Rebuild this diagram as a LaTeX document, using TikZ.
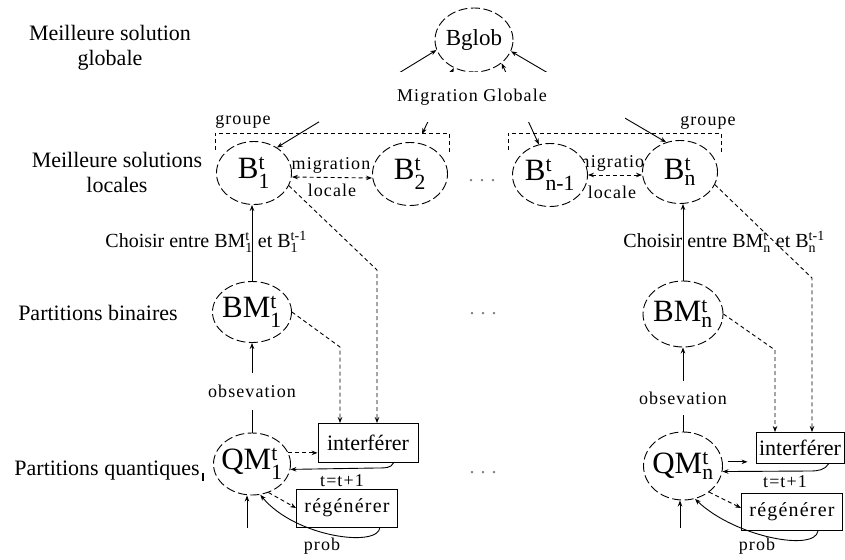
\documentclass[tikz,border=0pt]{standalone}
\usepackage{fontspec}
\usepackage{amsmath}
\setmainfont{Liberation Serif}
\usetikzlibrary{shapes.geometric,arrows.meta,calc}

% base letters with a stacked superscript and subscript, in the text font
\newcommand{\supsub}[3]{#1$^{\text{#2}}_{\text{#3}}$}
% widely spaced small serif used for edge labels
\newcommand{\spaced}[1]{\fontsize{#1}{#1}\selectfont\addfontfeatures{LetterSpace=6}}

\begin{document}
\begin{tikzpicture}[x=1pt,y=-1pt,line width=0.9pt,
  every node/.style={inner sep=0pt},
  tip/.style={-{Stealth[length=6pt,width=4.5pt]}},
  twotip/.style={{Stealth[length=6pt,width=4.5pt]}-{Stealth[length=6pt,width=4.5pt]}},
  dsh/.style={dash pattern=on 4pt off 3pt},
  sol/.style={ellipse, draw, dash pattern=on 9pt off 3.5pt, fill=white, inner sep=0pt},
  bnode/.style={sol, minimum width=75pt, minimum height=63pt},
  big/.style={font=\fontsize{31}{34}\selectfont},
  side/.style={font=\fontsize{22}{25}\selectfont, align=center},
  small/.style={font=\spaced{18}},
  opbox/.style={draw, solid, inner sep=0pt},
  choice/.style={font=\fontsize{20}{24}\selectfont, anchor=west},
  dots/.style={text=gray, font=\fontsize{20}{24}\selectfont},
]
\useasboundingbox (0,0) rectangle (845,559);

% captions of the levels
\node[side] (capG) at (110,48) {Meilleure solution\\globale};
\node[side] (capL) at (117,172) {Meilleure solutions\\locales};
\node[side] (capB) at (98,313) {Partitions binaires};
\node[side] (capQ) at (107,471) {Partitions quantiques};
\draw[line width=1.6pt] (203,473) -- (203,481);

% local migration labels, set before the filled ellipses
\node[small] (mig1) at (331,165) {migration};
\node[small] (loc1) at (332,190) {locale};
\node[small] (mig2) at (615,163) {migration};
\node[small] (loc2) at (612,192) {locale};

% global best
\node[sol, minimum width=78pt, minimum height=64pt,
      label={[font=\fontsize{23}{25}\selectfont]center:Bglob}] (Bglob) at (474,40) {};

% local bests
\node[bnode, label={[big]center:\supsub{B}{t}{1}}] (B1) at (254,173) {};
\node[bnode, label={[big]center:\supsub{B}{t}{2}}] (B2) at (410,174) {};
\node[bnode, label={[big]center:\supsub{B}{t}{n-1}}] (Bnm) at (550,175) {};
\node[bnode, label={[big]center:\supsub{B}{t}{n}}] (Bn) at (680,172) {};

% binary partitions
\node[sol, minimum width=79pt, minimum height=61pt,
      label={[big]center:\supsub{BM}{t}{1}}] (BM1) at (252,312) {};
\node[sol, minimum width=80pt, minimum height=66pt,
      label={[big]center:\supsub{BM}{t}{n}}] (BMn) at (683,314) {};

% quantum partitions
\node[sol, minimum width=77pt, minimum height=62pt,
      label={[big]center:\supsub{QM}{t}{1}}] (QM1) at (252,464) {};
\node[sol, minimum width=79pt, minimum height=68pt,
      label={[big]center:\supsub{QM}{t}{n}}] (QMn) at (683,466) {};

% operators
\node[opbox, minimum width=100pt, minimum height=39pt, font=\fontsize{22}{24}\selectfont] (I1) at (368,443) {interférer};
\node[opbox, minimum width=101pt, minimum height=38pt, font=\spaced{20}] (R1) at (347,508) {régénérer};
\node[opbox, minimum width=88pt, minimum height=31pt, font=\fontsize{22}{24}\selectfont] (In) at (800,448) {interférer};
\node[opbox, minimum width=101pt, minimum height=37pt, font=\spaced{20}] (Rn) at (792,512) {régénérer};

% ellipsis marks
\node[dots] (d1) at (482,181) {.\hspace{6pt}.\hspace{6pt}.};
\node[dots] (d2) at (483,314) {.\hspace{6pt}.\hspace{6pt}.};
\node[dots] (d3) at (483,473) {.\hspace{6pt}.\hspace{6pt}.};

% groups
\draw[dsh] (215,150) -- (215,133) -- (449,133) -- (449,152);
\draw[dsh] (508,150) -- (508,133) -- (721,133) -- (721,153);
\node[small] (grp1) at (243,122) {groupe};
\node[small] (grp2) at (708,123) {groupe};

% global migration
\coordinate (g1) at (422,134);
\draw[twotip] (B1.48) -- (Bglob.195);
\draw[twotip] (g1) -- (Bglob.234);
\draw[twotip] (Bnm.110) -- (Bglob.-40);
\draw[twotip] (Bn.115) -- (Bglob.-17);
\node[fill=white, minimum width=306pt, minimum height=49pt, small] (MG) at (472,97) {Migration Globale};

% local migration
\draw[dsh,twotip] ([yshift=-4pt]B1.east) -- ([yshift=-4pt]B2.west);
\draw[dsh,twotip] (Bnm.east) -- (Bnm.east -| Bn.west);

% choice between binary partition and previous best
\draw[tip] (BM1) -- (BM1 |- B1.south);
\draw[tip] (BMn) -- (BMn |- Bn.south);
\node[choice] (ch1) at (105,242) {Choisir entre \supsub{BM}{t}{1} et \supsub{B}{t-1}{1}};
\node[choice] (chn) at (623,242) {Choisir entre \supsub{BM}{t}{n} et \supsub{B}{t-1}{n}};

% observation
\draw[tip] (QM1) -- node[pos=0.46, fill=white, inner ysep=12pt, inner xsep=1pt, small] (ob1) {obsevation} (BM1);
\draw[tip] (QMn) -- node[pos=0.40, fill=white, inner ysep=11pt, inner xsep=1pt, small] (obn) {obsevation} (BMn);

% inputs of the interference step
\coordinate (c1) at (377,270);
\coordinate (c2) at (340,347);
\draw[dsh,tip] (B1.-20) -- (c1) -- (c1 |- I1.north);
\draw[dsh,tip] (BM1.east) -- (c2) -- (c2 |- I1.north);
\coordinate (c3) at (812,278);
\coordinate (c4) at (775,350);
\draw[dsh,tip] (Bn.-20) -- (c3) -- (c3 |- In.north);
\draw[dsh,tip] (BMn.east) -- (c4) -- (c4 |- In.north);

% loop of column 1
\draw[dsh,tip] (QM1.17) -- (QM1.17 -| I1.west);
\draw[tip] ([xshift=-25pt]I1.south east) .. controls (391,468) and (386,468) .. (376,468) -- (QM1.-8);
\node[small] (tt1) at (342,481) {t=t+1};
\draw[dsh,tip] (QM1.-60) -- (R1.west);
\draw[tip] ([xshift=-18pt]R1.south east) .. controls (378,548) and (295,537) .. (QM1.-75);
\node[small] (pr1) at (322,546) {prob};
\coordinate (in1) at (247,528);
\draw[tip] (in1) -- (in1 |- QM1.south);

% loop of column n
\draw[tip, shorten <=5pt, shorten >=8pt] (QMn.6) -- (QMn.6 -| In.west);
\draw[tip] ([xshift=-16pt]In.south east) .. controls (825,470) and (818,471) .. (810,471) -- (QMn.-8);
\node[small] (ttn) at (785,482) {t=t+1};
\draw[dsh,tip] (QMn.-45) -- ([yshift=4pt]Rn.west);
\draw[tip] ([xshift=-25pt]Rn.south east) .. controls (815,552) and (735,537) .. (QMn.-70);
\node[small] (prn) at (757,546) {prob};
\coordinate (inn) at (680,528);
\draw[tip] (inn) -- (inn |- QMn.south);
\end{tikzpicture}
\end{document}
